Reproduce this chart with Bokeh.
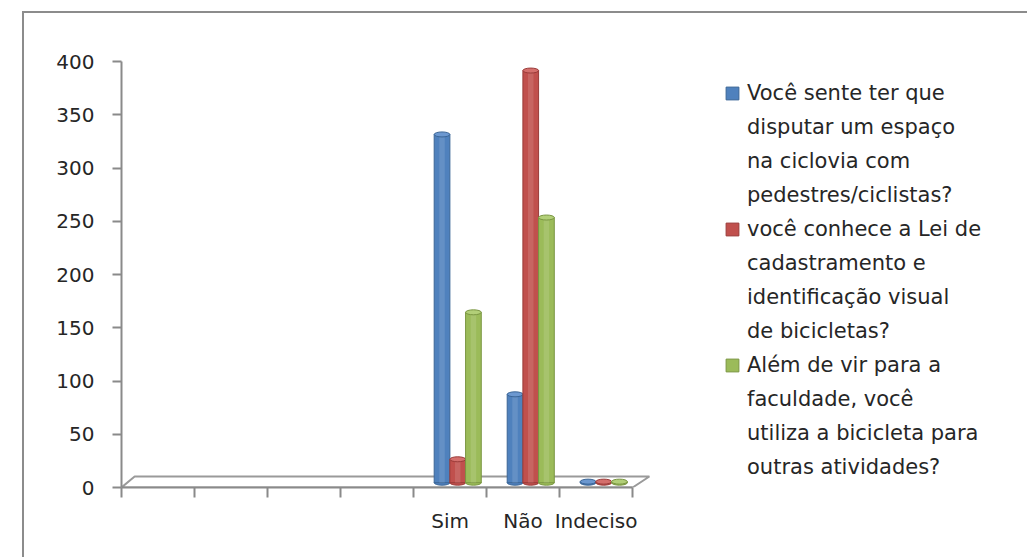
from bokeh.plotting import figure
from bokeh.models import Range1d, FixedTicker, Legend, LegendItem, ColumnDataSource
from bokeh.embed import file_html
from bokeh.resources import INLINE

# Answer categories; the axis keeps four empty slots ahead of them
categories = ["Sim", "Não", "Indeciso"]
empty_slots = 4

# Survey questions (series), each wrapped over several legend lines
series_labels = [
    ["Você sente ter que", "disputar um espaço", "na ciclovia com", "pedestres/ciclistas?"],
    ["você conhece a Lei de", "cadastramento e", "identificação visual", "de bicicletas?"],
    ["Além de vir para a", "faculdade, você", "utiliza a bicicleta para", "outras atividades?"],
]
# Answer counts per category for each question
disputa_espaco = [327, 83, 1]
conhece_lei = [22, 387, 1]
outras_atividades = [160, 249, 1]
series_values = [disputa_espaco, conhece_lei, outras_atividades]

series_colors = ["#4F81BD", "#C0504D", "#9BBB59"]
edge_colors = ["#3A6596", "#9A3B39", "#7A9642"]
cap_colors = ["#6C98D0", "#D46F6C", "#B2CF78"]

y_ticks = list(range(0, 401, 50))

FONT = "DejaVu Sans"
TEXT = "#262626"
AXIS = "#8a8a8a"

n_slots = empty_slots + len(categories)
bar_w = 0.215
base = 4.5          # bars stand in the middle of the 3-D floor
floor_depth = 10.3  # floor depth in value units
floor_shift = 0.18  # sideways shift of the floor's back edge

p = figure(
    frame_width=533, frame_height=426,
    x_range=Range1d(0, n_slots + 0.3), y_range=Range1d(0, 400),
    output_backend="svg", toolbar_location=None,
    min_border_left=97, min_border_right=120,
    min_border_top=48, min_border_bottom=71,
)
p.margin = (11, 0, 0, 22)
p.styles = {"border-left": "2px solid #8c8c8c", "border-top": "2px solid #8c8c8c"}
p.outline_line_color = None
p.xgrid.visible = False
p.ygrid.visible = False
p.background_fill_color = "white"
p.border_fill_color = "white"

# 3-D floor strip
p.patch(
    x=[0, floor_shift, n_slots + floor_shift + 0.05, n_slots],
    y=[0, floor_depth, floor_depth, 0],
    fill_color="white", line_color="#9a9a9a", line_width=2,
)

legend_items = []
for i, (vals, col, edge, cap, lines) in enumerate(
        zip(series_values, series_colors, edge_colors, cap_colors, series_labels)):
    xs = [empty_slots + k + 0.5 + (i - 1) * bar_w + 0.105 for k in range(len(categories))]
    src = ColumnDataSource(dict(x=xs, top=[v + base for v in vals], bottom=[base] * len(vals)))
    p.ellipse(x="x", y="bottom", width=bar_w, height=5, height_units="screen",
              source=src, fill_color=col, line_color=edge, line_width=1)
    r = p.vbar(x="x", top="top", bottom="bottom", width=bar_w, source=src,
               fill_color=col, line_color=edge, line_width=1)
    p.vbar(x="x", top="top", bottom="bottom", width=bar_w * 0.35, source=src,
           fill_color="white", fill_alpha=0.12, line_color=None)
    p.ellipse(x="x", y="top", width=bar_w, height=5, height_units="screen",
              source=src, fill_color=cap, line_color=edge, line_width=1)
    # first line carries the colour swatch, the rest continue the label
    legend_items.append(LegendItem(label=lines[0], renderers=[r]))
    for line in lines[1:]:
        legend_items.append(LegendItem(label=line, renderers=[]))

# value axis
yax = p.yaxis[0]
yax.ticker = FixedTicker(ticks=y_ticks)
yax.bounds = (0, 400)
yax.axis_line_color = AXIS
yax.axis_line_width = 2
yax.major_tick_line_color = AXIS
yax.major_tick_line_width = 2
yax.major_tick_in = 0
yax.major_tick_out = 9
yax.minor_tick_line_color = None
yax.major_label_standoff = 18
yax.major_label_text_font = FONT
yax.major_label_text_font_size = "20px"
yax.major_label_text_color = TEXT

# category axis: boundary ticks between slots, labels at slot centres
xax = p.xaxis[0]
label_pos = [empty_slots + k + 0.5 for k in range(len(categories))]
xax.ticker = FixedTicker(ticks=label_pos, minor_ticks=list(range(n_slots + 1)))
xax.major_label_overrides = {pos: name for pos, name in zip(label_pos, categories)}
xax.bounds = (0, n_slots)
xax.axis_line_color = AXIS
xax.axis_line_width = 2
xax.major_tick_line_color = None
xax.major_tick_out = 0
xax.major_tick_in = 0
xax.minor_tick_line_color = AXIS
xax.minor_tick_line_width = 2
xax.minor_tick_in = 0
xax.minor_tick_out = 10
xax.major_label_standoff = 11
xax.major_label_text_font = FONT
xax.major_label_text_font_size = "20px"
xax.major_label_text_color = TEXT

legend = Legend(
    items=legend_items, location=(70, 3),
    label_text_font=FONT, label_text_font_size="21px", label_text_color=TEXT,
    glyph_width=16, glyph_height=16, label_standoff=7,
    label_height=34, spacing=0, padding=0, margin=0,
    border_line_color=None, background_fill_color=None, background_fill_alpha=0,
)
p.add_layout(legend, "right")

open("out.html", "w").write(file_html(p, INLINE))
